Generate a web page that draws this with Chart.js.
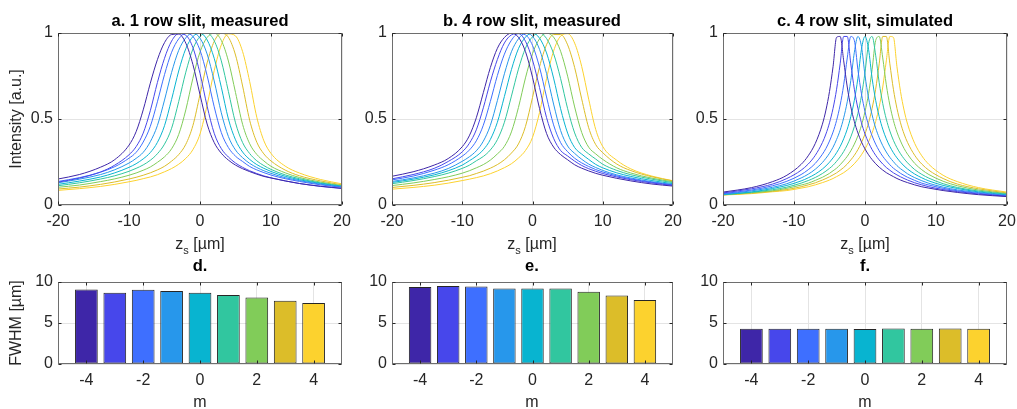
<!DOCTYPE html>
<html>
<head>
<meta charset="utf-8">
<script src="https://cdn.jsdelivr.net/npm/chart.js@4.4.0/dist/chart.umd.min.js"></script>
<style>
  body { margin: 0; width: 1017px; height: 409px; background: #fff; position: relative; overflow: hidden;
         font-family: "Liberation Sans", Arial, sans-serif; }
  canvas { position: absolute; }
  .ttl { position: absolute; font-weight: bold; font-size: 16.5px; color: #000; line-height: 1;
         transform: translateX(-50%); white-space: nowrap; }
  .xl { position: absolute; font-size: 16px; color: #262626; line-height: 1;
        transform: translateX(-50%); white-space: nowrap; }
  .xl sub { font-size: 11px; vertical-align: -5px; line-height: 0; }
</style>
</head>
<body>
<canvas id="cA" width="360" height="240" style="left:0;top:18px"></canvas>
<canvas id="cB" width="350" height="240" style="left:340px;top:18px"></canvas>
<canvas id="cC" width="337" height="240" style="left:680px;top:18px"></canvas>
<canvas id="cD" width="360" height="141" style="left:0;top:268px"></canvas>
<canvas id="cE" width="350" height="141" style="left:340px;top:268px"></canvas>
<canvas id="cF" width="337" height="141" style="left:680px;top:268px"></canvas>

<div class="ttl" style="left:200px;top:12px">a. 1 row slit, measured</div>
<div class="ttl" style="left:532px;top:12px">b. 4 row slit, measured</div>
<div class="ttl" style="left:865px;top:12px">c. 4 row slit, simulated</div>
<div class="ttl" style="left:200px;top:257px">d.</div>
<div class="ttl" style="left:532px;top:257px">e.</div>
<div class="ttl" style="left:865px;top:257px">f.</div>
<div class="xl" style="left:200px;top:236px">z<sub>s</sub> [µm]</div>
<div class="xl" style="left:532px;top:236px">z<sub>s</sub> [µm]</div>
<div class="xl" style="left:865px;top:236px">z<sub>s</sub> [µm]</div>
<div class="xl" style="left:200px;top:394px">m</div>
<div class="xl" style="left:532px;top:394px">m</div>
<div class="xl" style="left:865px;top:394px">m</div>

<script>
// order m = -4 ... 4
const orders = [-4, -3, -2, -1, 0, 1, 2, 3, 4];

// z positions [µm] the curves were read at
const zMeasured = [-20, -17, -14, -12, -10, -9, -8, -7, -6, -5, -4, -3, -2, -1, 0,
  1, 2, 3, 4, 5, 6, 7, 8, 9, 10, 12, 14, 17, 20];
const zSimulated = [-20, -16, -13, -11, -9, -8, -7, -6, -5.5, -5, -4.5, -4, -3.5, -3, -2.5, -2, -1.5, -1, -0.5, 0,
  0.5, 1, 1.5, 2, 2.5, 3, 3.5, 4, 4.5, 5, 5.5, 6, 7, 8, 9, 11, 13, 16, 20];

// a. 1 row slit, measured (one row per order)
const intensityA = [
  [0.151,0.177,0.220,0.264,0.348,0.426,0.553,0.708,0.845,0.944,0.991,0.994,0.941,0.817,0.642,0.471,0.363,0.301,0.261,0.232,0.211,0.194,0.179,0.166,0.157,0.140,0.125,0.109,0.097],
  [0.133,0.156,0.192,0.232,0.292,0.339,0.418,0.548,0.712,0.853,0.953,0.996,0.987,0.915,0.765,0.575,0.417,0.328,0.279,0.244,0.219,0.199,0.183,0.169,0.158,0.140,0.125,0.108,0.096],
  [0.137,0.159,0.191,0.223,0.272,0.306,0.366,0.457,0.600,0.758,0.888,0.966,0.998,0.980,0.900,0.753,0.571,0.421,0.334,0.284,0.253,0.224,0.204,0.188,0.174,0.153,0.137,0.117,0.103],
  [0.129,0.150,0.177,0.205,0.244,0.271,0.306,0.368,0.462,0.610,0.771,0.899,0.972,1.000,0.970,0.878,0.721,0.536,0.398,0.320,0.275,0.242,0.218,0.199,0.184,0.159,0.142,0.121,0.105],
  [0.120,0.139,0.163,0.187,0.219,0.240,0.268,0.305,0.364,0.461,0.614,0.779,0.909,0.979,0.999,0.960,0.853,0.685,0.500,0.379,0.308,0.265,0.235,0.213,0.195,0.167,0.147,0.125,0.108],
  [0.112,0.129,0.151,0.170,0.196,0.213,0.233,0.260,0.298,0.354,0.446,0.601,0.772,0.907,0.980,0.999,0.955,0.838,0.660,0.478,0.363,0.299,0.257,0.229,0.207,0.175,0.153,0.128,0.110],
  [0.103,0.116,0.136,0.152,0.173,0.186,0.202,0.221,0.248,0.280,0.327,0.410,0.553,0.737,0.889,0.974,0.999,0.957,0.837,0.654,0.469,0.356,0.294,0.256,0.225,0.187,0.160,0.133,0.113],
  [0.093,0.104,0.120,0.134,0.151,0.161,0.173,0.187,0.204,0.225,0.255,0.293,0.353,0.462,0.642,0.826,0.951,0.998,0.975,0.872,0.692,0.492,0.365,0.297,0.256,0.203,0.170,0.140,0.117],
  [0.085,0.095,0.108,0.120,0.135,0.143,0.153,0.163,0.176,0.193,0.212,0.237,0.271,0.322,0.413,0.580,0.781,0.931,0.995,0.983,0.892,0.717,0.510,0.373,0.300,0.226,0.186,0.148,0.123]
];

// b. 4 row slit, measured
const intensityB = [
  [0.167,0.193,0.232,0.270,0.339,0.402,0.507,0.653,0.799,0.911,0.974,0.999,0.975,0.892,0.743,0.561,0.416,0.337,0.293,0.263,0.234,0.214,0.198,0.184,0.173,0.155,0.140,0.122,0.110],
  [0.152,0.177,0.213,0.253,0.309,0.358,0.437,0.565,0.716,0.846,0.942,0.989,0.997,0.952,0.843,0.683,0.508,0.388,0.317,0.285,0.255,0.230,0.211,0.196,0.183,0.163,0.147,0.128,0.114],
  [0.146,0.168,0.202,0.234,0.284,0.319,0.373,0.464,0.602,0.753,0.877,0.958,0.996,0.989,0.928,0.801,0.628,0.466,0.363,0.310,0.272,0.245,0.224,0.206,0.192,0.169,0.152,0.132,0.117],
  [0.137,0.157,0.185,0.212,0.254,0.280,0.315,0.371,0.463,0.607,0.763,0.891,0.966,0.998,0.981,0.905,0.764,0.587,0.433,0.343,0.300,0.266,0.238,0.218,0.201,0.175,0.157,0.135,0.119],
  [0.131,0.150,0.175,0.199,0.232,0.257,0.284,0.321,0.381,0.481,0.631,0.787,0.909,0.976,1.000,0.970,0.884,0.738,0.560,0.418,0.334,0.296,0.265,0.236,0.216,0.187,0.166,0.142,0.124],
  [0.124,0.142,0.165,0.185,0.213,0.231,0.257,0.282,0.320,0.380,0.481,0.633,0.790,0.912,0.978,1.000,0.968,0.880,0.735,0.560,0.419,0.335,0.297,0.267,0.237,0.201,0.176,0.150,0.130],
  [0.113,0.128,0.148,0.164,0.185,0.199,0.216,0.235,0.261,0.297,0.341,0.425,0.567,0.739,0.880,0.966,0.999,0.976,0.894,0.749,0.570,0.422,0.336,0.297,0.265,0.216,0.186,0.156,0.135],
  [0.102,0.114,0.130,0.144,0.161,0.170,0.183,0.197,0.214,0.235,0.263,0.302,0.355,0.457,0.625,0.803,0.932,0.991,0.991,0.931,0.799,0.617,0.449,0.351,0.304,0.238,0.200,0.164,0.140],
  [0.092,0.102,0.115,0.127,0.142,0.150,0.159,0.169,0.182,0.198,0.217,0.240,0.273,0.317,0.393,0.538,0.736,0.895,0.982,0.996,0.941,0.806,0.615,0.439,0.340,0.260,0.210,0.168,0.141]
];

// c. 4 row slit, simulated
const intensityC = [
  [0.075,0.101,0.136,0.173,0.236,0.286,0.358,0.470,0.552,0.660,0.804,0.975,0.980,0.838,0.686,0.571,0.485,0.419,0.367,0.326,0.292,0.264,0.240,0.220,0.203,0.188,0.176,0.165,0.154,0.145,0.137,0.130,0.117,0.106,0.098,0.084,0.073,0.060,0.049],
  [0.070,0.094,0.122,0.154,0.202,0.238,0.289,0.363,0.413,0.478,0.562,0.673,0.821,0.980,0.980,0.821,0.673,0.562,0.478,0.413,0.363,0.322,0.289,0.262,0.238,0.218,0.202,0.187,0.175,0.164,0.154,0.145,0.129,0.117,0.106,0.090,0.078,0.064,0.051],
  [0.066,0.087,0.112,0.138,0.177,0.205,0.242,0.295,0.329,0.372,0.424,0.492,0.581,0.699,0.855,0.980,0.956,0.787,0.647,0.543,0.463,0.402,0.354,0.315,0.283,0.257,0.234,0.214,0.199,0.184,0.172,0.161,0.143,0.127,0.116,0.097,0.083,0.068,0.053],
  [0.063,0.082,0.103,0.124,0.157,0.179,0.208,0.247,0.272,0.301,0.336,0.381,0.435,0.507,0.600,0.724,0.888,0.980,0.922,0.754,0.622,0.524,0.448,0.391,0.345,0.308,0.277,0.252,0.229,0.211,0.196,0.181,0.159,0.141,0.126,0.104,0.088,0.072,0.056],
  [0.061,0.076,0.096,0.114,0.140,0.158,0.180,0.209,0.227,0.249,0.274,0.304,0.340,0.385,0.441,0.514,0.609,0.737,0.905,0.980,0.905,0.737,0.609,0.514,0.441,0.385,0.340,0.304,0.274,0.249,0.227,0.209,0.180,0.158,0.140,0.114,0.096,0.076,0.059],
  [0.060,0.074,0.089,0.104,0.127,0.142,0.160,0.183,0.197,0.213,0.231,0.254,0.280,0.311,0.349,0.396,0.456,0.533,0.635,0.771,0.939,0.980,0.871,0.711,0.590,0.499,0.430,0.376,0.333,0.298,0.269,0.245,0.206,0.178,0.156,0.124,0.102,0.081,0.063],
  [0.059,0.071,0.083,0.097,0.116,0.127,0.143,0.161,0.172,0.184,0.199,0.214,0.234,0.257,0.283,0.315,0.354,0.402,0.463,0.543,0.647,0.787,0.956,0.980,0.855,0.699,0.581,0.492,0.424,0.372,0.329,0.295,0.242,0.205,0.177,0.138,0.112,0.087,0.066],
  [0.059,0.069,0.080,0.090,0.106,0.117,0.129,0.145,0.154,0.164,0.175,0.187,0.202,0.218,0.238,0.262,0.289,0.322,0.363,0.413,0.478,0.562,0.673,0.821,0.980,0.980,0.821,0.673,0.562,0.478,0.413,0.363,0.289,0.238,0.202,0.154,0.122,0.094,0.070],
  [0.058,0.066,0.077,0.084,0.098,0.106,0.117,0.130,0.137,0.145,0.154,0.165,0.176,0.188,0.203,0.220,0.240,0.264,0.292,0.326,0.367,0.419,0.485,0.571,0.686,0.838,0.980,0.975,0.804,0.660,0.552,0.470,0.358,0.286,0.236,0.173,0.136,0.101,0.075]
];

// FWHM [µm] per order
const fwhmD = [9.1, 8.7, 9.05, 8.9, 8.7, 8.4, 8.1, 7.7, 7.45];
const fwhmE = [9.4, 9.5, 9.45, 9.2, 9.2, 9.2, 8.8, 8.35, 7.8];
const fwhmF = [4.3, 4.3, 4.3, 4.3, 4.28, 4.33, 4.3, 4.33, 4.3];

// tick labels
const zTicks = [-20, -10, 0, 10, 20];
const intensityTicks = [0, 0.5, 1];
const mTicks = [-4, -2, 0, 2, 4];
const fwhmTicks = [0, 5, 10];

const parula = ['#3e26a8', '#4747eb', '#3e6fff', '#2797eb', '#08b4d0', '#31c69f', '#81cc59', '#dcbd29', '#fcd22e'];

const font16 = { family: '"Liberation Sans", Arial, sans-serif', size: 16 };
const textColor = '#262626';

// box around the plot area with small inward ticks, like matlab axes
const frame = {
  id: 'frame',
  afterDatasetsDraw(chart) {
    const { ctx, chartArea: a, scales } = chart;
    const l = Math.round(a.left) + 0.5, r = Math.round(a.right) - 0.5;
    const t = Math.round(a.top) + 0.5, b = Math.round(a.bottom) - 0.5;
    ctx.save();
    ctx.strokeStyle = '#6e6e6e';
    ctx.lineWidth = 1;
    ctx.strokeRect(l, t, r - l, b - t);
    ctx.strokeStyle = '#262626';
    ctx.beginPath();
    scales.x.ticks.forEach(tk => {
      const x = Math.round(scales.x.getPixelForValue(tk.value)) + 0.5;
      ctx.moveTo(x, b); ctx.lineTo(x, b - 3);
      ctx.moveTo(x, t); ctx.lineTo(x, t + 3);
    });
    scales.y.ticks.forEach(tk => {
      const y = Math.round(scales.y.getPixelForValue(tk.value)) + 0.5;
      ctx.moveTo(l, y); ctx.lineTo(l + 3, y);
      ctx.moveTo(r, y); ctx.lineTo(r - 3, y);
    });
    ctx.stroke();
    ctx.restore();
  }
};

// no automatic room for overhanging tick labels, the canvas already has it
function noOverhang(s) {
  s.paddingTop = 0; s.paddingBottom = 0; s.paddingLeft = 0; s.paddingRight = 0;
}

function scalesFor(g) {
  return {
    x: {
      type: 'linear', min: g.xMin, max: g.xMax, offset: false,
      afterBuildTicks: s => { s.ticks = g.xTicks.map(v => ({ value: v })); },
      afterFit: s => { s.height = g.xh; noOverhang(s); },
      grid: { color: '#e4e4e4', drawTicks: false, offset: false },
      border: { display: false },
      ticks: { color: textColor, font: font16, padding: 7, maxRotation: 0, autoSkip: false, callback: v => String(v) }
    },
    y: {
      type: 'linear', min: g.yMin, max: g.yMax,
      afterBuildTicks: s => { s.ticks = g.yTicks.map(v => ({ value: v })); },
      afterFit: s => { s.width = g.yw; noOverhang(s); },
      grid: { color: '#e4e4e4', drawTicks: false },
      border: { display: false },
      ticks: { color: textColor, font: font16, padding: 5, autoSkip: false, callback: v => String(v) },
      title: { display: !!g.yTitle, text: g.yTitle || '', color: textColor, font: font16, padding: { top: 7 } }
    }
  };
}

function baseOptions(g) {
  return {
    responsive: false,
    animation: false,
    events: [],
    layout: { padding: { top: g.padT, right: g.padR, left: 0, bottom: 0 } },
    plugins: { legend: { display: false }, tooltip: { enabled: false } },
    scales: scalesFor(g)
  };
}

function lineChart(id, z, rows, g) {
  new Chart(document.getElementById(id), {
    type: 'line',
    data: {
      datasets: rows.map((row, i) => ({
        data: row.map((v, j) => ({ x: z[j], y: v })),
        borderColor: parula[i],
        borderWidth: 1,
        pointRadius: 0,
        fill: false,
        cubicInterpolationMode: 'monotone'
      }))
    },
    options: baseOptions(Object.assign({ xMin: -20, xMax: 20, xTicks: zTicks, yMin: 0, yMax: 1, yTicks: intensityTicks, padT: 15, xh: 53 }, g)),
    plugins: [frame]
  });
}

function barChart(id, values, g) {
  new Chart(document.getElementById(id), {
    type: 'bar',
    data: {
      datasets: [{
        data: orders.map((m, i) => ({ x: m, y: values[i] })),
        backgroundColor: parula,
        borderColor: '#262626',
        borderWidth: 1,
        borderSkipped: false,
        barPercentage: 0.8,
        categoryPercentage: 1
      }]
    },
    options: baseOptions(Object.assign({ xMin: -5, xMax: 5, xTicks: mTicks, yMin: 0, yMax: 10, yTicks: fwhmTicks, padT: 14, xh: 45 }, g)),
    plugins: [frame]
  });
}

lineChart('cA', zMeasured, intensityA, { yw: 58, padR: 18, yTitle: 'Intensity [a.u.]' });
lineChart('cB', zMeasured, intensityB, { yw: 52, padR: 17 });
lineChart('cC', zSimulated, intensityC, { yw: 43, padR: 10 });

barChart('cD', fwhmD, { yw: 58, padR: 18, yTitle: 'FWHM [µm]' });
barChart('cE', fwhmE, { yw: 52, padR: 17 });
barChart('cF', fwhmF, { yw: 43, padR: 10 });
</script>
</body>
</html>
